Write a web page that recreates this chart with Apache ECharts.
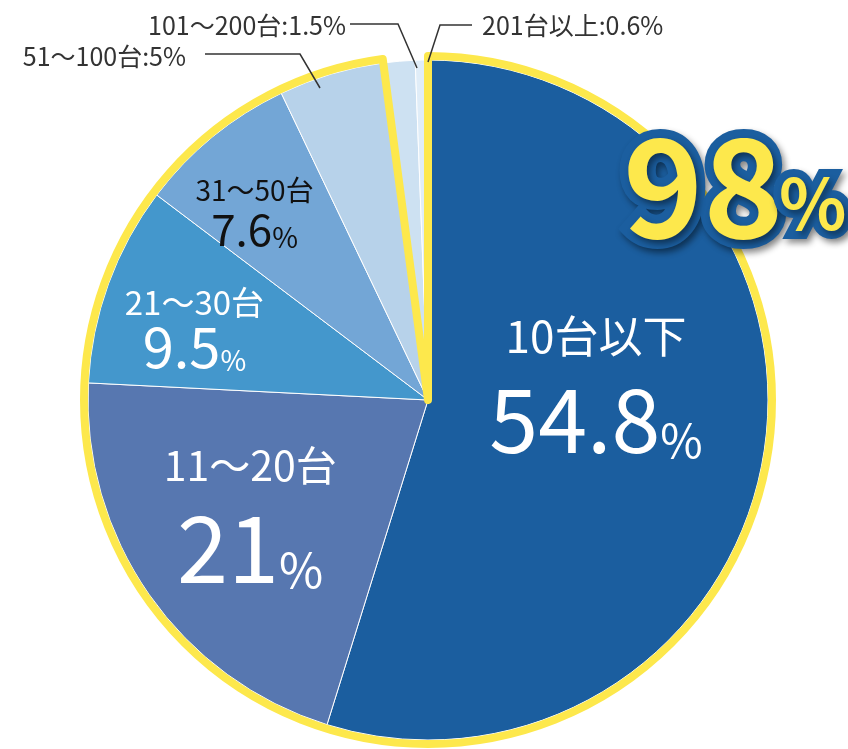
<!DOCTYPE html>
<html>
<head>
<meta charset="utf-8">
<title>台数別構成比</title>
<script src="https://cdn.jsdelivr.net/npm/echarts@6/dist/echarts.min.js"></script>
<style>
html, body { margin: 0; padding: 0; background: #fff; }
#chart { width: 848px; height: 749px; }
</style>
</head>
<body>
<div id="chart"></div>
<script>
// data
var categories = ['10台以下', '11～20台', '21～30台', '31～50台', '51～100台', '101～200台', '201台以上'];
var shares = [54.8, 21, 9.5, 7.6, 5, 1.5, 0.6];
var highlightCount = 5; // slices inside the yellow outline

var FONT = 'Noto Sans CJK JP';
var sliceColors = ['#1b5e9f', '#5777b0', '#4497cc', '#73a6d6', '#b7d2ea', '#cde1f2', '#e0edf8'];
var yellow = '#fde84c';
var pieCenter = [428, 400];
var pieR = 340;

var highlightSum = 0;
for (var i = 0; i < highlightCount; i++) highlightSum += shares[i];
var restSum = 0;
for (var i = highlightCount; i < shares.length; i++) restSum += shares[i];

// inside labels: font sizes, line heights, colour, shift from default spot
var innerStyle = {
	0: { n: 44, nl: 60, v: 88, vl: 97, p: 46, color: '#fff', dx: -3, dy: -45 },
	1: { n: 41, nl: 52, v: 92, vl: 102, p: 48, color: '#fff', dx: -36, dy: 15 },
	2: { n: 33, nl: 40, v: 56, vl: 52, p: 28, color: '#fff', dx: -71, dy: -14 },
	3: { n: 28, nl: 34, v: 44, vl: 44, p: 28, color: '#111', dx: -64, dy: -55 }
};
// outside labels with leader lines
var outerStyle = {
	4: { x: 186, y: 56, align: 'right', line: [[320, 88], [300, 54], [205, 54]] },
	5: { x: 346, y: 25, align: 'right', line: [[417, 68], [398, 24], [350, 24]] },
	6: { x: 482, y: 25, align: 'left', line: [[428, 62], [440, 25], [472, 25]] }
};

var mainData = [], labelData = [];
categories.forEach(function (name, idx) {
	mainData.push({ name: name, value: shares[idx], itemStyle: { color: sliceColors[idx] } });
	var item = { name: name, value: shares[idx] };
	var s = innerStyle[idx];
	if (s) {
		item.label = {
			position: 'inside',
			formatter: '{n|' + name + '}\n{v|' + shares[idx] + '}{p|%}',
			rich: {
				n: { fontFamily: FONT, fontSize: s.n, lineHeight: s.nl, color: s.color },
				v: { fontFamily: FONT, fontSize: s.v, lineHeight: s.vl, color: s.color, verticalAlign: 'bottom' },
				p: { fontFamily: FONT, fontSize: s.p, lineHeight: s.vl - 0.76 * (s.v - s.p), color: s.color, verticalAlign: 'bottom' }
			}
		};
		item.labelLine = { show: false };
	} else {
		item.label = {
			position: 'outside',
			formatter: name + ':' + shares[idx] + '%',
			fontFamily: FONT,
			fontSize: 25,
			color: '#333'
		};
		item.labelLine = { show: true, lineStyle: { color: '#333', width: 1.5 } };
	}
	labelData.push(item);
});

var chart = echarts.init(document.getElementById('chart'));
var option = {
	backgroundColor: '#fff',
	animation: false,
	textStyle: { fontFamily: FONT },
	series: [
		{
			name: 'slices',
			type: 'pie',
			z: 1,
			center: pieCenter,
			radius: pieR,
			startAngle: 90,
			clockwise: true,
			silent: true,
			label: { show: false },
			labelLine: { show: false },
			itemStyle: { borderColor: '#fff', borderWidth: 1 },
			data: mainData
		},
		{
			name: 'outline',
			type: 'pie',
			z: 2,
			center: pieCenter,
			radius: pieR + 4,
			startAngle: 90,
			clockwise: true,
			silent: true,
			label: { show: false },
			labelLine: { show: false },
			data: [
				{ value: highlightSum, itemStyle: { color: 'rgba(0,0,0,0)', borderColor: yellow, borderWidth: 8 } },
				{ value: restSum, itemStyle: { color: 'rgba(0,0,0,0)', borderWidth: 0 } }
			]
		},
		{
			name: 'labels',
			type: 'pie',
			z: 3,
			center: pieCenter,
			radius: pieR,
			startAngle: 90,
			clockwise: true,
			silent: true,
			avoidLabelOverlap: false,
			itemStyle: { color: 'rgba(0,0,0,0)', borderWidth: 0 },
			label: { show: true },
			labelLayout: function (params) {
				var idx = params.dataIndex;
				var s = innerStyle[idx];
				if (s) {
					var r = params.labelRect;
					return {
						x: r.x + r.width / 2 + s.dx,
						y: r.y + r.height / 2 + s.dy,
						align: 'center',
						verticalAlign: 'middle'
					};
				}
				var o = outerStyle[idx];
				return {
					x: o.x,
					y: o.y,
					align: o.align,
					verticalAlign: 'middle',
					labelLinePoints: o.line
				};
			},
			data: labelData
		}
	],
	graphic: [
		{
			type: 'text',
			z: 100,
			x: 623,
			y: 186,
			style: {
				text: String(Math.round(highlightSum)),
				font: 'bold 136px "Noto Sans CJK JP"',
				fill: yellow,
				stroke: '#1b5e9f',
				lineWidth: 18,
				align: 'left',
				verticalAlign: 'middle',
				textShadowColor: 'rgba(0,0,0,0.45)',
				textShadowBlur: 6,
				textShadowOffsetX: 3,
				textShadowOffsetY: 4
			}
		},
		{
			type: 'text',
			z: 100,
			x: 779,
			y: 203,
			style: {
				text: '%',
				font: 'bold 70px "Noto Sans CJK JP"',
				fill: yellow,
				stroke: '#1b5e9f',
				lineWidth: 16,
				align: 'left',
				verticalAlign: 'middle',
				textShadowColor: 'rgba(0,0,0,0.45)',
				textShadowBlur: 6,
				textShadowOffsetX: 3,
				textShadowOffsetY: 4
			}
		}
	]
};
chart.setOption(option);
</script>
</body>
</html>
